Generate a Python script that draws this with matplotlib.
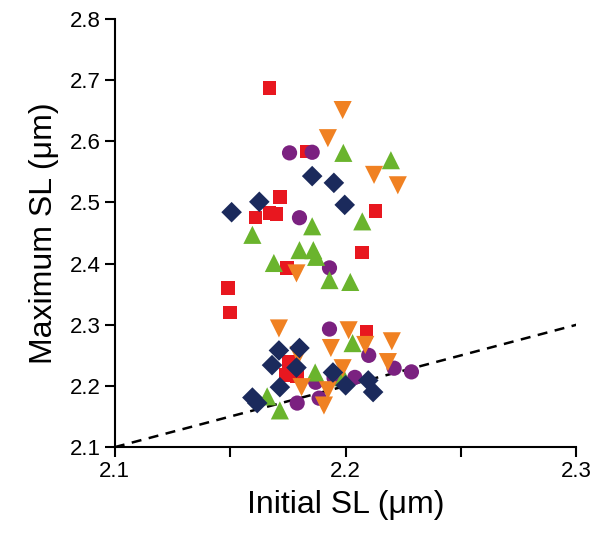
import numpy as np
import matplotlib.pyplot as plt
from matplotlib.ticker import MultipleLocator

plt.rcParams['font.family'] = ['Liberation Sans', 'DejaVu Sans']

# red squares
sq_x = [2.167, 2.183, 2.1715, 2.161, 2.167, 2.170, 2.1745, 2.149, 2.150, 2.213, 2.207,
        2.209, 2.1755, 2.174, 2.179]
sq_y = [2.687, 2.583, 2.509, 2.475, 2.483, 2.481, 2.393, 2.360, 2.320, 2.486, 2.418,
        2.288, 2.240, 2.218, 2.216]
# purple circles
ci_x = [2.1757, 2.1855, 2.180, 2.193, 2.193, 2.210, 2.187, 2.195, 2.204, 2.1885, 2.221,
        2.2285, 2.179]
ci_y = [2.581, 2.582, 2.475, 2.393, 2.293, 2.250, 2.206, 2.213, 2.214, 2.180, 2.229,
        2.223, 2.172]
# green up triangles
tu_x = [2.199, 2.2196, 2.1855, 2.1596, 2.2072, 2.180, 2.186, 2.1872, 2.1689, 2.193, 2.202,
        2.166, 2.1715, 2.203, 2.1868, 2.199]
tu_y = [2.581, 2.569, 2.461, 2.447, 2.469, 2.422, 2.422, 2.411, 2.401, 2.373, 2.370,
        2.183, 2.160, 2.270, 2.222, 2.214]
# orange down triangles
td_x = [2.1987, 2.1923, 2.2123, 2.2226, 2.1787, 2.1711, 2.1796, 2.1809, 2.2013, 2.2085,
        2.1936, 2.1987, 2.1923, 2.1906, 2.220, 2.2183]
td_y = [2.651, 2.605, 2.545, 2.528, 2.384, 2.294, 2.250, 2.198, 2.291, 2.267,
        2.262, 2.229, 2.193, 2.168, 2.273, 2.239]
# navy diamonds
di_x = [2.1855, 2.1949, 2.1996, 2.1626, 2.1506, 2.1711, 2.180, 2.1681, 2.1787, 2.1715,
        2.1596, 2.1617, 2.1945, 2.200, 2.2098, 2.2119]
di_y = [2.543, 2.532, 2.496, 2.501, 2.484, 2.258, 2.262, 2.234, 2.230, 2.198,
        2.181, 2.172, 2.222, 2.201, 2.209, 2.190]

fig = plt.figure(figsize=(5.98, 5.40), dpi=100)
ax = fig.add_axes([0.192, 0.172, 0.772, 0.793])

ax.plot([2.1, 2.3], [2.1, 2.3], ls=(0, (4, 3)), color='black', lw=1.8, zorder=1)

ax.scatter(sq_x, sq_y, marker='s', s=95, color='#E8171F', edgecolors='none', zorder=3)
ax.scatter(ci_x, ci_y, marker='o', s=120, color='#7B2180', edgecolors='none', zorder=3)
ax.scatter(tu_x, tu_y, marker='^', s=170, color='#6AB42D', edgecolors='none', zorder=3)
ax.scatter(td_x, td_y, marker='v', s=170, color='#F08122', edgecolors='none', zorder=3)
ax.scatter(di_x, di_y, marker='D', s=110, color='#1B2A5C', edgecolors='none', zorder=3)

ax.set_xlim(2.1, 2.3)
ax.set_ylim(2.1, 2.8)
ax.xaxis.set_major_locator(MultipleLocator(0.1))
ax.xaxis.set_minor_locator(MultipleLocator(0.05))
ax.yaxis.set_major_locator(MultipleLocator(0.1))
ax.spines['top'].set_visible(False)
ax.spines['right'].set_visible(False)
ax.spines['left'].set_linewidth(1.5)
ax.spines['bottom'].set_linewidth(1.5)
ax.tick_params(which='major', direction='out', length=7, width=1.5, labelsize=16, pad=3)
ax.tick_params(which='minor', direction='out', length=7, width=1.5)
ax.set_xlabel('Initial SL (\u03bcm)', fontsize=23, labelpad=6)
ax.set_ylabel('Maximum SL (\u03bcm)', fontsize=23, labelpad=8)

fig.savefig('out.png', dpi=100)
